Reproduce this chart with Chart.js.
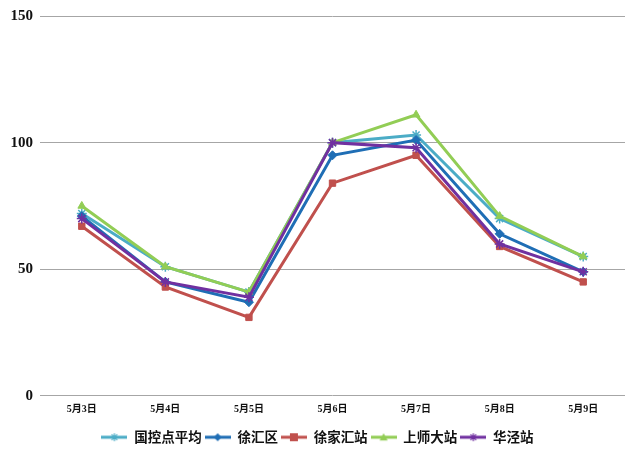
<!DOCTYPE html>
<html>
<head>
<meta charset="utf-8">
<script src="https://cdn.jsdelivr.net/npm/chart.js@4/dist/chart.umd.min.js"></script>
<style>
  html, body { margin: 0; padding: 0; background: #fff; }
  #wrap { width: 640px; height: 459px; }
</style>
</head>
<body>
<div id="wrap"><canvas id="aqiChart" width="640" height="459"></canvas></div>
<script>
const days = ['5月3日', '5月4日', '5月5日', '5月6日', '5月7日', '5月8日', '5月9日'];
const yTicks = [0, 50, 100, 150];

const guokongAvg = [72, 51, 41, 100, 103, 70, 55];
const xuhuiDistrict = [71, 45, 37, 95, 101, 64, 49];
const xujiahui = [67, 43, 31, 84, 95, 59, 45];
const shangshida = [75, 51, 41, 100, 111, 71, 55];
const huajing = [70, 45, 39, 100, 98, 60, 49];

const seriesNames = ['国控点平均', '徐汇区', '徐家汇站', '上师大站', '华泾站'];
const seriesColors = ['#4BACC6', '#1F6EB5', '#C0504D', '#92CD55', '#7030A0'];
const seriesMarkers = ['star', 'rectRot', 'rect', 'triangle', 'star'];
const seriesData = [guokongAvg, xuhuiDistrict, xujiahui, shangshida, huajing];

const serif = "'Liberation Serif', 'DejaVu Serif', 'Noto Sans CJK SC', serif";
const sans = "'Noto Sans CJK SC', 'Noto Sans', sans-serif";

// small marker shapes for the legend icons
function drawMarker(g, marker, x, y, r) {
    g.beginPath();
    if (marker === 'rect') {
        g.fillRect(x - r, y - r, r * 2, r * 2);
    } else if (marker === 'rectRot') {
        g.moveTo(x, y - r);
        g.lineTo(x + r, y);
        g.lineTo(x, y + r);
        g.lineTo(x - r, y);
        g.closePath();
        g.fill();
    } else if (marker === 'triangle') {
        g.moveTo(x, y - r);
        g.lineTo(x + r, y + r * 0.8);
        g.lineTo(x - r, y + r * 0.8);
        g.closePath();
        g.fill();
    } else {
        g.lineWidth = 1.2;
        for (let a = 0; a < 4; a++) {
            const ang = a * Math.PI / 4;
            g.moveTo(x - Math.cos(ang) * r, y - Math.sin(ang) * r);
            g.lineTo(x + Math.cos(ang) * r, y + Math.sin(ang) * r);
        }
        g.stroke();
    }
}

// legend icon: short line with the marker in the middle
function makeIcon(color, marker) {
    const c = document.createElement('canvas');
    c.width = 26;
    c.height = 12;
    const g = c.getContext('2d');
    g.strokeStyle = color;
    g.fillStyle = color;
    g.lineWidth = 3;
    g.beginPath();
    g.moveTo(0, 6);
    g.lineTo(26, 6);
    g.stroke();
    drawMarker(g, marker, 13, 6, 4);
    return c;
}

const legendIcons = seriesColors.map((c, i) => makeIcon(c, seriesMarkers[i]));

const datasets = seriesData.map((vals, i) => ({
    label: seriesNames[i],
    data: vals,
    borderColor: seriesColors[i],
    backgroundColor: seriesColors[i],
    borderWidth: 3,
    pointStyle: seriesMarkers[i],
    pointRadius: seriesMarkers[i] === 'star' ? 5 : 4.5,
    pointBorderWidth: seriesMarkers[i] === 'star' ? 1.5 : 1,
    tension: 0,
    fill: false,
    order: seriesData.length - i
}));

const ctx = document.getElementById('aqiChart').getContext('2d');
new Chart(ctx, {
    type: 'line',
    data: { labels: days, datasets: datasets },
    options: {
        responsive: false,
        animation: false,
        layout: { padding: { top: 7, right: 15, bottom: 5, left: 10 } },
        scales: {
            x: {
                offset: true,
                grid: { display: false, drawTicks: false, offset: true },
                border: { display: false },
                ticks: {
                    color: '#111',
                    padding: 8,
                    maxRotation: 0,
                    font: { family: serif, size: 10, weight: 'bold' }
                }
            },
            y: {
                min: 0,
                max: 150,
                afterBuildTicks: axis => { axis.ticks = yTicks.map(v => ({ value: v })); },
                afterFit: axis => { axis.width = 30; },
                grid: { color: '#a6a6a6', lineWidth: 1, drawTicks: false },
                border: { display: false },
                ticks: {
                    color: '#111',
                    padding: 7,
                    font: { family: serif, size: 15, weight: 'bold' }
                }
            }
        },
        plugins: {
            legend: {
                position: 'bottom',
                title: { display: true, text: '', padding: 0, font: { size: 3 } },
                labels: {
                    usePointStyle: true,
                    pointStyleWidth: 26,
                    boxHeight: 12,
                    padding: 3,
                    color: '#111',
                    font: { family: sans, size: 13.5, weight: 'bold' },
                    generateLabels: chart => chart.data.datasets.map((ds, i) => ({
                        text: ds.label,
                        pointStyle: legendIcons[i],
                        fillStyle: ds.borderColor,
                        strokeStyle: ds.borderColor,
                        lineWidth: 0,
                        hidden: false,
                        datasetIndex: i,
                        fontColor: '#111'
                    }))
                }
            },
            tooltip: { enabled: false }
        }
    }
});
</script>
</body>
</html>
